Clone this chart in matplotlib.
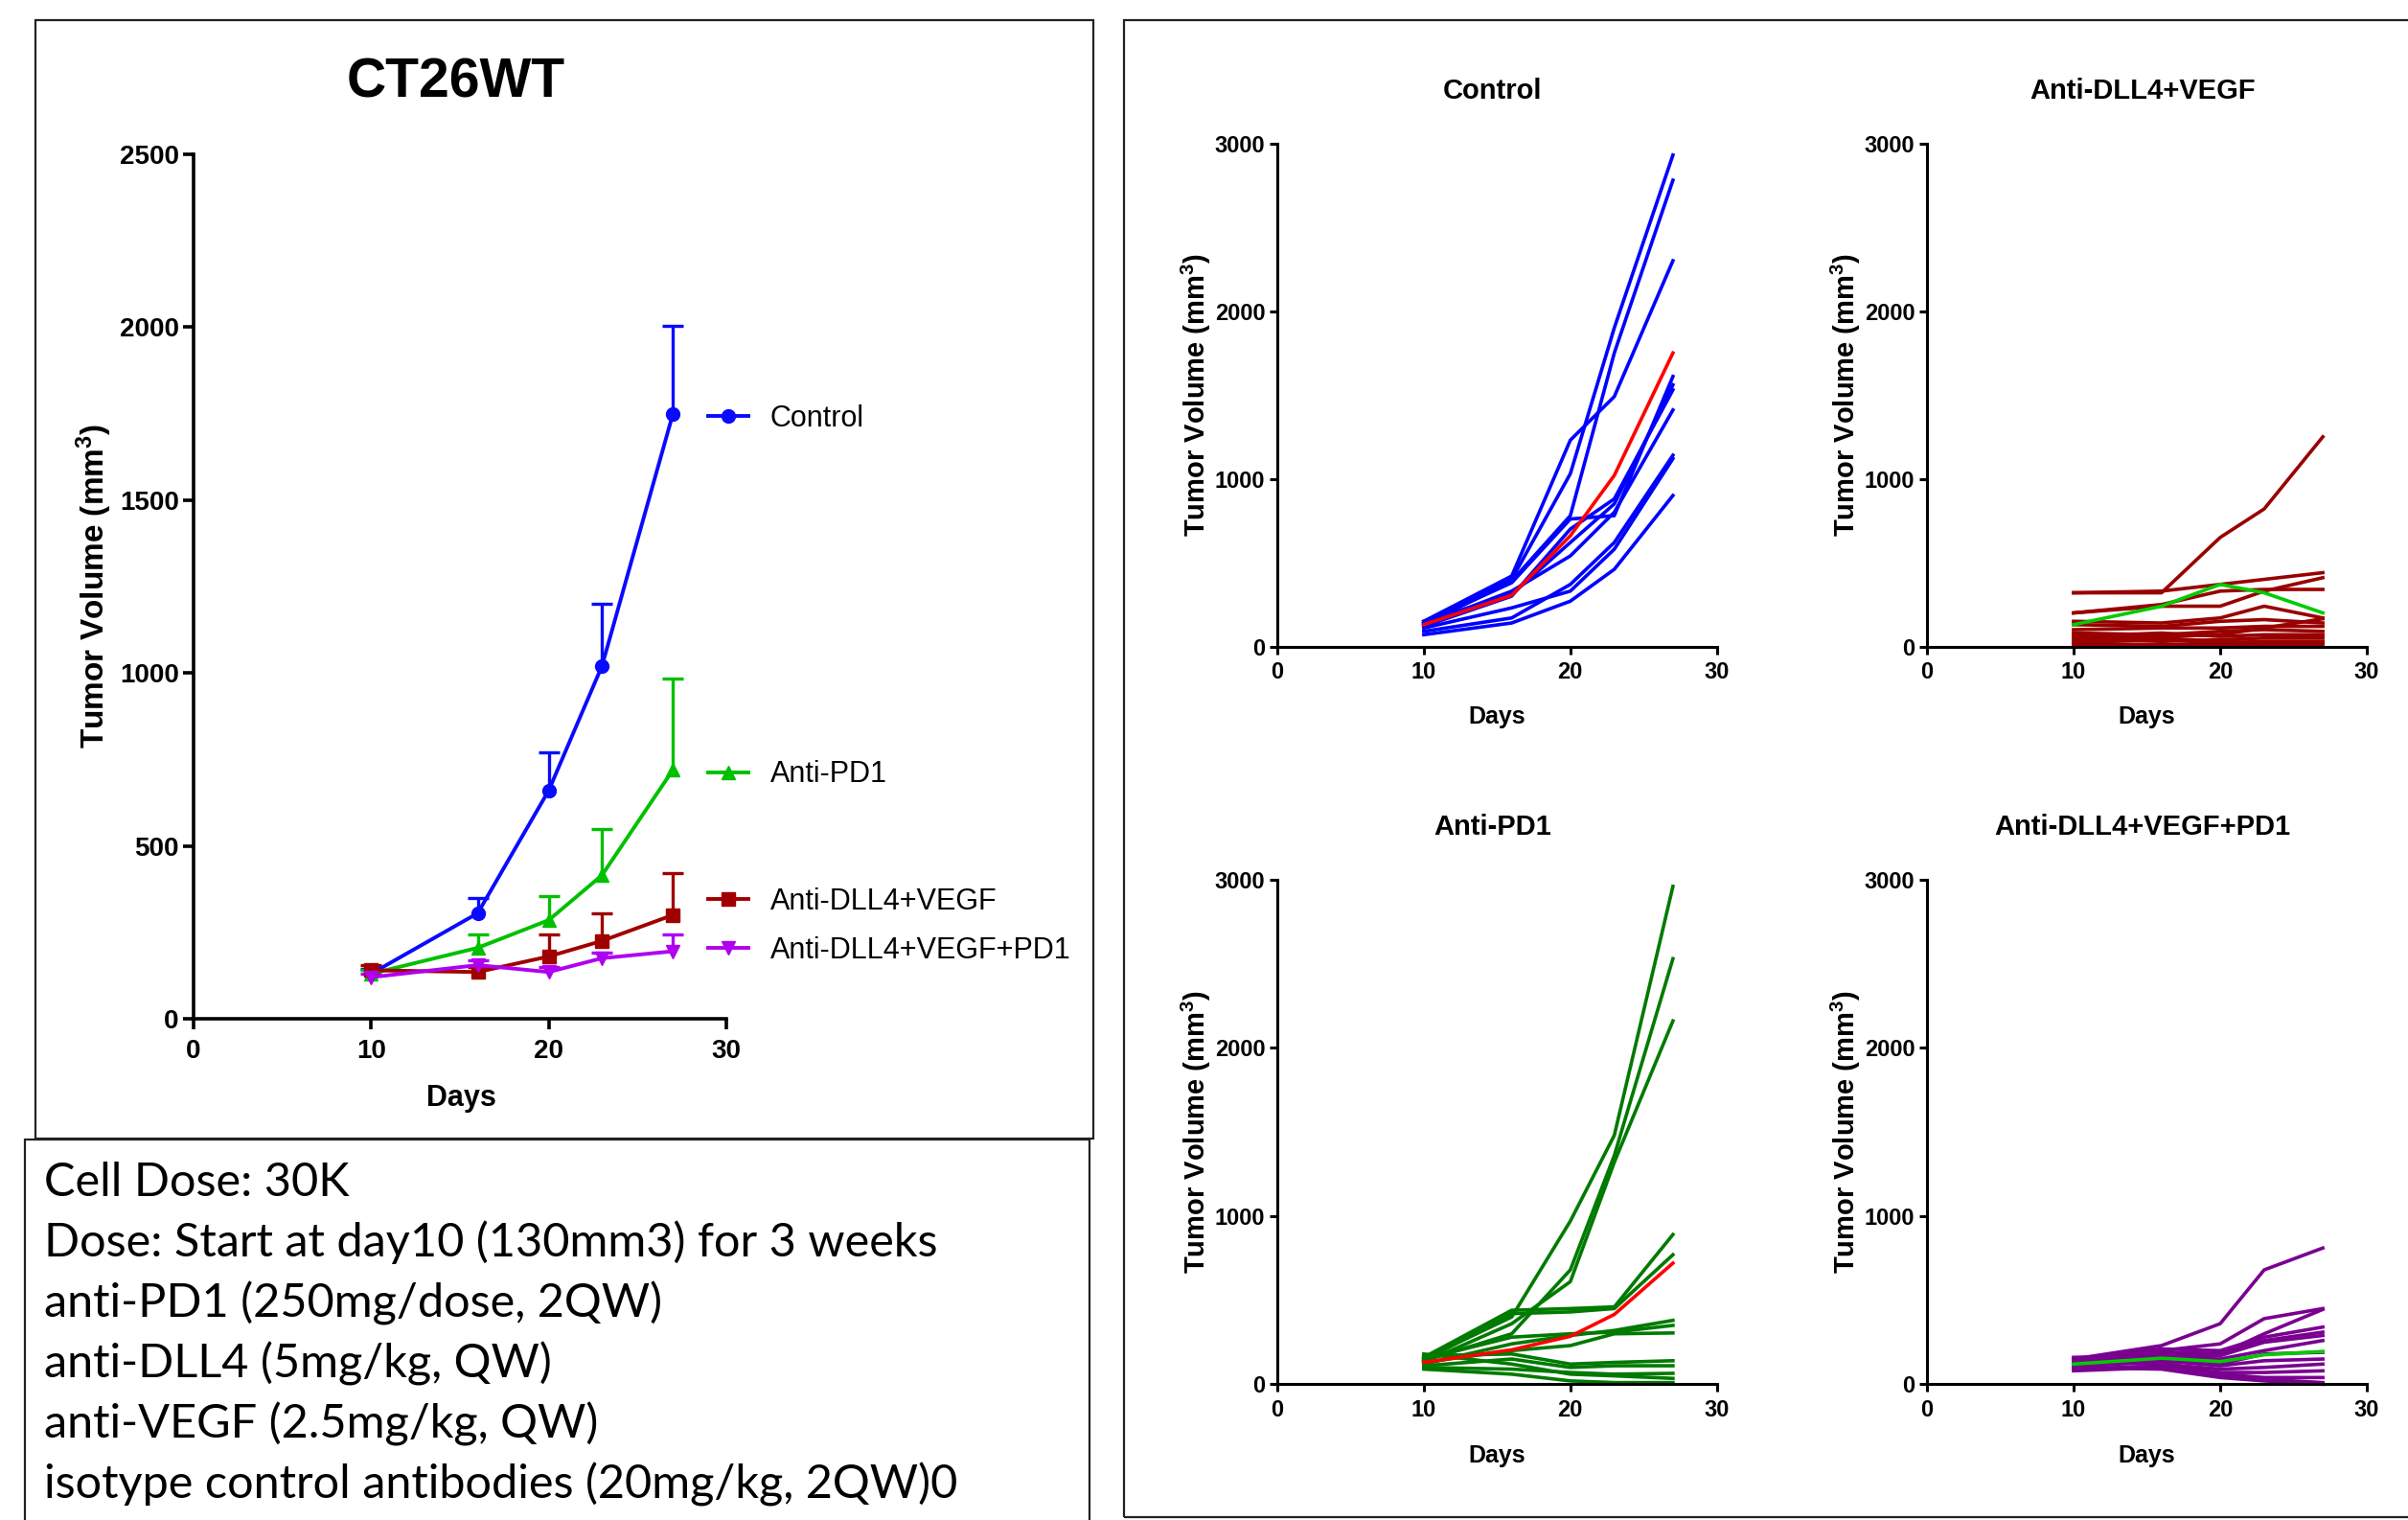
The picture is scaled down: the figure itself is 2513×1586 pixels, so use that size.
import matplotlib
matplotlib.use('Agg')
import matplotlib.pyplot as plt
from matplotlib.patches import Rectangle
import numpy as np

plt.rcParams['font.family'] = ['Liberation Sans', 'DejaVu Sans']
plt.rcParams['mathtext.default'] = 'regular'

# ---- data -------------------------------------------------------------
days = [10, 16, 20, 23, 27]

groups = ['Control', 'Anti-PD1', 'Anti-DLL4+VEGF', 'Anti-DLL4+VEGF+PD1']

ctrl_mean = [130, 305, 660, 1020, 1750]
ctrl_sem = [15, 45, 110, 180, 255]
pd1_mean = [130, 205, 285, 415, 720]
pd1_sem = [10, 40, 70, 135, 265]
dll4_mean = [140, 135, 180, 225, 300]
dll4_sem = [15, 15, 65, 80, 120]
combo_mean = [120, 155, 135, 175, 195]
combo_sem = [10, 15, 15, 15, 50]

# legend label heights (data units), placed next to the last point
legend_y = [1736, 706, 338, 197]

# individual animals
ctrl_mice = [
    [150, 420, 1230, 1490, 2300],
    [140, 400, 1030, 1900, 2930],
    [130, 390, 780, 1750, 2780],
    [140, 380, 760, 780, 1610],
    [150, 310, 620, 850, 1560],
    [120, 300, 700, 880, 1530],
    [130, 330, 540, 800, 1410],
    [90, 170, 370, 620, 1140],
    [110, 230, 330, 580, 1120],
    [70, 140, 270, 460, 900],
]
dll4_mice = [
    [320, 320, 650, 820, 1250],
    [320, 330, 370, 400, 440],
    [200, 240, 240, 330, 410],
    [200, 250, 330, 340, 340],
    [150, 140, 170, 240, 170],
    [130, 120, 150, 160, 140],
    [100, 110, 110, 120, 120],
    [40, 60, 70, 110, 165],
    [80, 70, 90, 100, 90],
    [60, 80, 60, 70, 70],
    [50, 30, 40, 50, 50],
    [70, 50, 30, 20, 25],
    [30, 40, 20, 30, 30],
    [20, 10, 10, 10, 10],
    [10, 0, 0, 0, 0],
]
dll4_green = [130, 240, 370, 320, 200]
pd1_mice = [
    [150, 400, 970, 1480, 2960],
    [140, 300, 680, 1360, 2530],
    [130, 360, 610, 1320, 2160],
    [160, 440, 450, 460, 890],
    [140, 420, 430, 450, 770],
    [120, 240, 290, 320, 380],
    [150, 280, 300, 310, 350],
    [130, 200, 230, 300, 305],
    [170, 180, 120, 130, 140],
    [110, 150, 100, 110, 110],
    [100, 90, 70, 60, 65],
    [180, 120, 60, 50, 35],
    [90, 60, 20, 10, 10],
]
combo_mice = [
    [150, 230, 360, 680, 810],
    [140, 200, 240, 390, 450],
    [130, 190, 180, 300, 445],
    [150, 210, 200, 280, 340],
    [120, 180, 190, 260, 310],
    [160, 170, 170, 250, 290],
    [110, 160, 150, 200, 260],
    [140, 150, 120, 180, 190],
    [100, 140, 110, 140, 150],
    [130, 120, 90, 100, 120],
    [90, 110, 70, 70, 80],
    [120, 130, 60, 40, 40],
    [80, 100, 50, 30, 10],
    [100, 90, 40, 20, 0],
]

notes = [
    'Cell Dose: 30K',
    'Dose: Start at day10 (130mm3) for 3 weeks',
    'anti-PD1 (250mg/dose, 2QW)',
    'anti-DLL4 (5mg/kg, QW)',
    'anti-VEGF (2.5mg/kg, QW)',
    'isotype control antibodies (20mg/kg, 2QW)0',
]

# ---- figure -----------------------------------------------------------
W, H = 2513, 1586
fig = plt.figure(figsize=(W / 100, H / 100), dpi=100)


def px_rect(x0, y0, x1, y1, lw=1.6):
    # rectangle given in pixel coords from top-left
    r = Rectangle((x0 / W, 1 - y1 / H), (x1 - x0) / W, (y1 - y0) / H,
                  transform=fig.transFigure, fill=False, lw=lw,
                  edgecolor='#222222')
    fig.add_artist(r)


px_rect(37, 21, 1141, 1188)
px_rect(26, 1189, 1137, 1620)
px_rect(1173, 21, 2560, 1583)


def style_axes(ax, lw, ticklen, fs, xpad):
    ax.spines['top'].set_visible(False)
    ax.spines['right'].set_visible(False)
    ax.spines['left'].set_linewidth(lw)
    ax.spines['bottom'].set_linewidth(lw)
    ax.tick_params(direction='out', length=ticklen, width=lw, labelsize=fs, pad=3)
    ax.tick_params(axis='x', pad=xpad)
    for lab in ax.get_xticklabels() + ax.get_yticklabels():
        lab.set_fontweight('bold')


# ---- left summary chart ----------------------------------------------
ax = fig.add_axes([0.0804, 0.3298, 0.2212, 0.5687])
colors = ['#0a0aff', '#00c000', '#a00000', '#b000f0']
markers = ['o', '^', 's', 'v']
means = [ctrl_mean, pd1_mean, dll4_mean, combo_mean]
sems = [ctrl_sem, pd1_sem, dll4_sem, combo_sem]

handles = []
for m, s, c, mk in zip(means, sems, colors, markers):
    m = np.array(m)
    up = m + np.array(s)
    ax.vlines(days, m, up, colors=c, lw=2.4, zorder=2)
    ax.plot(days, up, ls='none', marker='_', ms=16, mew=2.4, color=c, zorder=2)
    ln, = ax.plot(days, m, color=c, lw=2.8, marker=mk, ms=10, zorder=3)
    handles.append(ln)

ax.set_xlim(0, 30)
ax.set_ylim(0, 2500)
ax.set_xticks([0, 10, 20, 30])
ax.set_yticks([0, 500, 1000, 1500, 2000, 2500])
style_axes(ax, 2.6, 8, 20, 7)
ax.set_xlabel('Days', fontsize=22, fontweight='bold')
ax.xaxis.set_label_coords(0.502, -0.076)
ax.set_ylabel('Tumor Volume (mm$^3$)', fontsize=24, fontweight='bold')
ax.yaxis.set_label_coords(-0.15, 0.5)
ax.text(0.493, 1.083, 'CT26WT', transform=ax.transAxes, ha='center',
        va='center', fontsize=41, fontweight='bold')

for i, (h, g, ly) in enumerate(zip(handles, groups, legend_y)):
    leg = ax.legend(handles=[h], labels=[g], loc='center left',
                    bbox_to_anchor=(29.0, ly), bbox_transform=ax.transData,
                    frameon=False, borderpad=0, borderaxespad=0,
                    handlelength=1.36, handletextpad=0.75, fontsize=22,
                    numpoints=1)
    if i < len(handles) - 1:
        ax.add_artist(leg)

# ---- right spaghetti panels ------------------------------------------
panels = [
    ('Control', [0.5304, 0.5747, 0.1826, 0.3310], ctrl_mice, '#0000ff', ctrl_mean, '#ff0000'),
    ('Anti-DLL4+VEGF', [0.8002, 0.5747, 0.1827, 0.3310], dll4_mice, '#990000', dll4_green, '#00cc00'),
    ('Anti-PD1', [0.5304, 0.0893, 0.1826, 0.3320], pd1_mice, '#007a00', pd1_mean, '#ff0000'),
    ('Anti-DLL4+VEGF+PD1', [0.8002, 0.0893, 0.1827, 0.3320], combo_mice, '#7a0090', combo_mean, '#00cc00'),
]

for title, rect, mice, c, avg, avg_c in panels:
    pax = fig.add_axes(rect)
    for y in mice:
        pax.plot(days, y, color=c, lw=2.6, clip_on=False, zorder=2)
    pax.plot(days, avg, color=avg_c, lw=2.6, clip_on=False, zorder=3)
    pax.set_xlim(0, 30)
    pax.set_ylim(0, 3000)
    pax.set_xticks([0, 10, 20, 30])
    pax.set_yticks([0, 1000, 2000, 3000])
    style_axes(pax, 2.2, 6, 17, 5)
    pax.set_xlabel('Days', fontsize=18, fontweight='bold')
    pax.xaxis.set_label_coords(0.50, -0.118)
    pax.set_ylabel('Tumor Volume (mm$^3$)', fontsize=21, fontweight='bold')
    pax.yaxis.set_label_coords(-0.145, 0.5)
    pax.text(0.49, 1.104, title, transform=pax.transAxes, ha='center',
             va='center', fontsize=21, fontweight='bold')

# ---- notes box --------------------------------------------------------
for i, line in enumerate(notes):
    fig.text(46 / W, 1 - (1248 + 63.2 * i) / H, line, fontsize=35,
             family=['Lato', 'DejaVu Sans'], ha='left', va='baseline')

fig.savefig('out.png', dpi=100)
